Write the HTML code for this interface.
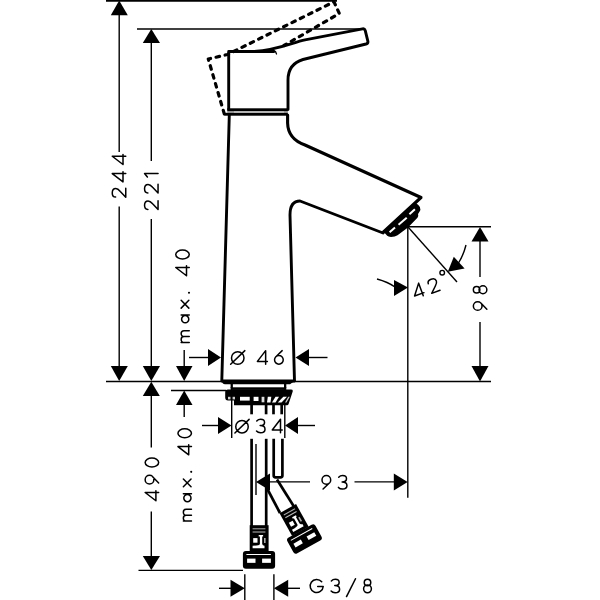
<!DOCTYPE html>
<html><head><meta charset="utf-8">
<style>
html,body{margin:0;padding:0;background:#fff;width:600px;height:600px;overflow:hidden}
svg{display:block}
text{font-family:"Liberation Sans",sans-serif;fill:#000;stroke:none}
</style></head>
<body>
<svg width="600" height="600" viewBox="0 0 600 600">
<rect width="600" height="600" fill="#fff"/>

<g stroke="#000" stroke-width="1.4" fill="none">
  <line x1="106" y1="0.85" x2="337" y2="0.85" stroke-width="1.75"/>
  <line x1="137" y1="29" x2="362" y2="29"/>
  <line x1="106" y1="381.5" x2="491" y2="381.5"/>
  <line x1="171" y1="390.5" x2="226" y2="390.5"/>
  <line x1="138.5" y1="570.4" x2="243" y2="570.4"/>
  <line x1="119.2" y1="14" x2="119.2" y2="152"/>
  <line x1="119.2" y1="206.5" x2="119.2" y2="367"/>
  <line x1="151.3" y1="42" x2="151.3" y2="161"/>
  <line x1="151.3" y1="219" x2="151.3" y2="367"/>
  <line x1="151.3" y1="396" x2="151.3" y2="447.6"/>
  <line x1="151.3" y1="511.5" x2="151.3" y2="557"/>
  <line x1="184.2" y1="350" x2="184.2" y2="367"/>
  <line x1="184.2" y1="404" x2="184.2" y2="417"/>
  <line x1="189" y1="357.5" x2="209" y2="357.5"/>
  <line x1="308" y1="357.5" x2="327.5" y2="357.5"/>
  <line x1="202" y1="425.5" x2="219" y2="425.5"/>
  <line x1="297" y1="425.5" x2="315" y2="425.5"/>
  <line x1="231.7" y1="384" x2="231.7" y2="438"/>
  <line x1="284.8" y1="384" x2="284.8" y2="438"/>
  <line x1="407.8" y1="226.7" x2="491" y2="226.7"/>
  <line x1="407.8" y1="226.7" x2="407.8" y2="497.7"/>
  <line x1="407.8" y1="226.7" x2="457" y2="282"/>
  <line x1="480" y1="241" x2="480" y2="277"/>
  <line x1="480" y1="322" x2="480" y2="367"/>
  <path d="M377,279 Q388,282 395,287"/>
  <path d="M466,245 Q463.5,255 458.5,263"/>
  <line x1="270" y1="481.9" x2="310" y2="481.9"/>
  <line x1="354.5" y1="481.9" x2="394" y2="481.9"/>
  <line x1="256" y1="444" x2="256" y2="495"/>
  <line x1="244.8" y1="574.2" x2="244.8" y2="600"/>
  <line x1="273.9" y1="574.2" x2="273.9" y2="600"/>
  <line x1="219" y1="588.3" x2="232" y2="588.3"/>
  <line x1="287" y1="588.3" x2="300" y2="588.3"/>
</g>


<g fill="#000">
  <polygon points="119.2,0.5 110.8,15.2 127.8,15.2"/>
  <polygon points="119.2,381 110.8,366 127.8,366"/>
  <polygon points="151.3,29 142.8,43 160,43"/>
  <polygon points="151.3,381 142.8,366 160,366"/>
  <polygon points="151.3,381.8 142.8,396 159.8,396"/>
  <polygon points="151.3,570 142.8,556 160,556"/>
  <polygon points="184.2,381 176,366 192.5,366"/>
  <polygon points="184.2,390.5 176,405 192.5,405"/>
  <polygon points="221,357.5 208,349 208,366"/>
  <polygon points="295.5,357.5 309,349 309,366"/>
  <polygon points="231.5,425.5 218,417 218,434"/>
  <polygon points="285,425.5 298,417 298,434"/>
  <polygon points="480,227 471.5,241.5 488.5,241.5"/>
  <polygon points="480,381.5 471.5,366 488.5,366"/>
  <polygon points="408,287.5 394,280 394,296"/>
  <polygon points="447.8,271.8 453.8,256.8 464.6,268.4"/>
  <polygon points="256,481.9 270,473.4 270,490.4"/>
  <polygon points="407.6,481.9 393.8,473.4 393.8,490.4"/>
  <polygon points="244.8,588.3 230.5,579.8 230.5,596.8"/>
  <polygon points="273.9,588.3 288.2,579.8 288.2,596.8"/>
</g>


<g stroke="#000" stroke-width="2.9" fill="none" stroke-linejoin="round" stroke-linecap="round">
  <path d="M224.7,115.3 L208.3,59 L227.5,54.5 L334,1.8 L339.3,13.5 L284,45.5" stroke-width="3.2" stroke-dasharray="3.6 5.7" stroke-dashoffset="-1.5" stroke-linecap="round"/>
  <path d="M228.7,109.5 L228.7,51.5 L274,51.5"/>
  <path d="M250,51.5 C275,51.5 292,42.5 305,39.9 L362.5,28.8 Q364.6,28.4 365.2,30.4 L367.9,41.3 Q368.2,43.4 366,44 L303,59.5 Q288,64 288,80 L288,109.5"/>
  <line x1="275.5" y1="51.5" x2="276.5" y2="54" stroke-width="1.3"/>
  <rect x="227.3" y="108.3" width="60.5" height="3" fill="#000" stroke="none"/><rect x="224.5" y="112.8" width="63.3" height="2.9" fill="#000" stroke="none"/>
  <rect x="227.3" y="111.2" width="60.5" height="1.7" fill="#888" stroke="none"/><rect x="234" y="111.4" width="50" height="1.2" fill="#ccc" stroke="none"/>
  <path d="M229.3,115 L221.8,381 L294.5,381 L290,215 Q290,201 300,201 L383,233"/>
  <path d="M287.6,115 L287.6,123 Q288,139 305,145 L421,197.5 L383.5,232" stroke-width="3.1"/>
</g>
<g transform="translate(383.8,232.1) rotate(-42.6)">
  <path d="M0,-1 L43,-1 Q44,3 43.5,6 Q42.5,8.8 40,9.2 L37.5,9.8 Q36.5,12 34.5,12.2 L21,12.9 L8,11.6 Q5,11.2 2,8.5 Q0,6.5 0,5 Z" fill="#000"/>
  <g stroke="#fff" stroke-width="2">
    <line x1="4.1" y1="4.1" x2="11.3" y2="4.3"/>
    <line x1="15.8" y1="4.6" x2="26.6" y2="4.9"/>
    <line x1="30.9" y1="4.25" x2="38.3" y2="4.3"/>
  </g>
</g>
<!-- base / plate -->
<g fill="#000">
  <path d="M224,380 L296,380 L290,384.3 L225,384.3 Q222,384 222,381Z"/>
  <rect x="230.6" y="384" width="2.2" height="4"/>
  <rect x="284" y="384" width="2.3" height="4"/>
  <rect x="230.6" y="387.3" width="55.7" height="2.6"/>
  <path d="M228,389.4 L291,389.4 Q293.2,389.4 292.7,391.5 L288.6,404 Q288.2,405.2 287,405.2 L234,405.2 L234,402.8 L234,400.5 L228,400.5 Q225.2,400.5 225.2,397.5 L225.2,392.2 Q225.2,389.4 228,389.4Z"/>
</g>
<g fill="#fff">
  <rect x="228" y="396.8" width="2.5" height="2.6" fill="#ccc"/>
  <rect x="232.6" y="396.8" width="2.4" height="2.6" fill="#ccc"/>
  <rect x="240" y="396.8" width="9.7" height="3.8"/>
  <rect x="253.6" y="396.8" width="4.9" height="4.2"/>
  <rect x="261.6" y="396.8" width="2.8" height="5.5" fill="#ddd"/>
  <polygon points="267.8,396.8 271.3,396.8 270.5,402.5 267,402.5"/>
  <polygon points="275.5,396.8 279,396.8 275.5,402.5 272,402.5"/>
  <polygon points="283.3,396.8 287,396.8 281.5,402.5 277.8,402.5"/>
  <polygon points="288.3,396.8 289.8,396.8 286.5,402.5 285,402.5" fill="#ccc"/>
</g>
<g stroke="#000" stroke-width="2.7" fill="none">
  <line x1="251.6" y1="404" x2="251.6" y2="414.3"/>
  <line x1="266.1" y1="404" x2="266.1" y2="414.3"/>
  <line x1="273.5" y1="404" x2="273.5" y2="414.3"/>
  <line x1="281.7" y1="404" x2="281.7" y2="414.3"/>
  <line x1="251.6" y1="438.8" x2="251.6" y2="526"/>
  <line x1="266.2" y1="438.8" x2="266.2" y2="526"/>
  <path d="M273.7,438.8 L273.7,475.5 Q273.7,477.3 275.5,477.3 L280.6,477.3 Q282.4,477.3 282.4,475.5 L282.4,438.8"/>
  <line x1="266.3" y1="487" x2="280" y2="513"/>
  <line x1="277" y1="479.5" x2="293.6" y2="506"/>
</g>


<g>
  <rect x="249.7" y="525.2" width="18.9" height="26" fill="#000"/>
  <line x1="252.6" y1="528.8" x2="265.4" y2="528.8" stroke="#aaa" stroke-width="1"/>
  <line x1="252.6" y1="532" x2="265.4" y2="532" stroke="#bbb" stroke-width="1"/>
  <rect x="253.2" y="538.1" width="4.3" height="4.6" fill="#fff"/>
  <path d="M258.7,534.9 L263.1,534.9 L263.1,536.5 L262.2,536.5 L262.2,544 Q262.5,545.7 264.5,545.7 L264.5,548.3 L252.6,548.3 L252.6,545.7 Q259.6,545.7 259.9,544 L259.9,536.5 L258.7,536.5Z" fill="#fff"/>
  <rect x="264" y="538" width="1.6" height="5" fill="#aaa"/>
  <rect x="242.9" y="550.9" width="32.2" height="17.9" rx="3" fill="#000"/>
  <line x1="246.4" y1="554.5" x2="270.9" y2="554.5" stroke="#fff" stroke-width="1"/>
  <rect x="247.1" y="558.6" width="8.4" height="4.25" fill="#fff"/>
  <rect x="262.1" y="558.6" width="8.8" height="4.25" fill="#fff"/>
</g>


<g transform="translate(304.45,539) rotate(-29) translate(-259,-559.85)">
  <rect x="249.7" y="525.2" width="18.9" height="26" fill="#000"/>
  <line x1="252.6" y1="528.8" x2="265.4" y2="528.8" stroke="#aaa" stroke-width="1"/>
  <line x1="252.6" y1="532" x2="265.4" y2="532" stroke="#bbb" stroke-width="1"/>
  <rect x="253.2" y="538.1" width="4.3" height="4.6" fill="#fff"/>
  <path d="M258.7,534.9 L263.1,534.9 L263.1,536.5 L262.2,536.5 L262.2,544 Q262.5,545.7 264.5,545.7 L264.5,548.3 L252.6,548.3 L252.6,545.7 Q259.6,545.7 259.9,544 L259.9,536.5 L258.7,536.5Z" fill="#fff"/>
  <rect x="264" y="538" width="1.6" height="5" fill="#aaa"/>
  <rect x="242.9" y="550.9" width="32.2" height="17.9" rx="3" fill="#000"/>
  <line x1="246.4" y1="554.5" x2="270.9" y2="554.5" stroke="#fff" stroke-width="1"/>
  <rect x="247.1" y="558.6" width="8.4" height="4.25" fill="#fff"/>
  <rect x="262.1" y="558.6" width="8.8" height="4.25" fill="#fff"/>
</g>

<g fill="none" stroke="#000" stroke-width="1.5" stroke-linecap="round" stroke-linejoin="round">
<path transform="translate(229.90,349.90)" d="M7.85,1.85 A6.25,6.25 0 1 1 7.85,14.35 A6.25,6.25 0 1 1 7.85,1.85Z M0.75,14.35 L14.95,0.75"/>
<path transform="translate(256.65,349.90)" d="M9.0,14.25 L9.0,0.75 L0.75,11.5 L10.75,11.5"/>
<path transform="translate(273.75,349.90)" d="M8.43,0.75 L2.15,6.77 M5.15,5.55 A4.35,4.35 0 1 1 5.15,14.25 A4.35,4.35 0 1 1 5.15,5.55Z"/>
<path transform="translate(234.15,418.60)" d="M7.85,1.85 A6.25,6.25 0 1 1 7.85,14.35 A6.25,6.25 0 1 1 7.85,1.85Z M0.75,14.35 L14.95,0.75"/>
<path transform="translate(255.75,418.50)" d="M1.0,2.4 C2,1.3 3.3,0.75 4.9,0.75 C7.3,0.75 8.8,2.1 8.8,3.9 C8.8,5.8 7.1,7.1 4.4,7.1 C7.5,7.1 9.25,8.6 9.25,10.7 C9.25,12.9 7.3,14.25 4.8,14.25 C3.1,14.25 1.7,13.7 0.75,12.6"/>
<path transform="translate(271.50,418.50)" d="M9.0,14.25 L9.0,0.75 L0.75,11.5 L10.75,11.5"/>
<path transform="translate(321.20,474.80)" d="M1.87,14.25 L8.15,8.23 M5.15,0.75 A4.35,4.35 0 1 1 5.15,9.45 A4.35,4.35 0 1 1 5.15,0.75Z"/>
<path transform="translate(337.70,474.80)" d="M1.0,2.4 C2,1.3 3.3,0.75 4.9,0.75 C7.3,0.75 8.8,2.1 8.8,3.9 C8.8,5.8 7.1,7.1 4.4,7.1 C7.5,7.1 9.25,8.6 9.25,10.7 C9.25,12.9 7.3,14.25 4.8,14.25 C3.1,14.25 1.7,13.7 0.75,12.6"/>
<path transform="translate(309.10,578.70)" d="M12.62,3.09 A6.55,6.55 0 1 0 14.13,7.76 L8.6,7.76"/>
<path transform="translate(330.35,578.50)" d="M1.0,2.4 C2,1.3 3.3,0.75 4.9,0.75 C7.3,0.75 8.8,2.1 8.8,3.9 C8.8,5.8 7.1,7.1 4.4,7.1 C7.5,7.1 9.25,8.6 9.25,10.7 C9.25,12.9 7.3,14.25 4.8,14.25 C3.1,14.25 1.7,13.7 0.75,12.6"/>
<path transform="translate(345.75,578.00)" d="M0.75,18.55 L9.75,0.75"/>
<path transform="translate(362.85,578.50)" d="M4.65,0.75 A3.25,3.25 0 1 1 4.65,7.25 A3.25,3.25 0 1 1 4.65,0.75Z M4.65,6.45 A3.90,3.90 0 1 1 4.65,14.25 A3.90,3.90 0 1 1 4.65,6.45Z"/>
<path transform="translate(111.50,198.05) rotate(-90)" d="M0.95,4.1 C0.95,2 2.8,0.75 5.1,0.75 C7.7,0.75 9.5,2.2 9.5,4.3 C9.5,6.1 8.4,7.3 6.6,8.8 L0.9,14.25 L9.75,14.25"/>
<path transform="translate(111.50,182.60) rotate(-90)" d="M9.0,14.25 L9.0,0.75 L0.75,11.5 L10.75,11.5"/>
<path transform="translate(111.50,165.25) rotate(-90)" d="M9.0,14.25 L9.0,0.75 L0.75,11.5 L10.75,11.5"/>
<path transform="translate(143.80,210.45) rotate(-90)" d="M0.95,4.1 C0.95,2 2.8,0.75 5.1,0.75 C7.7,0.75 9.5,2.2 9.5,4.3 C9.5,6.1 8.4,7.3 6.6,8.8 L0.9,14.25 L9.75,14.25"/>
<path transform="translate(143.80,193.95) rotate(-90)" d="M0.95,4.1 C0.95,2 2.8,0.75 5.1,0.75 C7.7,0.75 9.5,2.2 9.5,4.3 C9.5,6.1 8.4,7.3 6.6,8.8 L0.9,14.25 L9.75,14.25"/>
<path transform="translate(143.80,177.80) rotate(-90)" d="M0.75,3.6 L4.25,0.75 L4.25,14.25"/>
<path transform="translate(144.40,501.50) rotate(-90)" d="M9.0,14.25 L9.0,0.75 L0.75,11.5 L10.75,11.5"/>
<path transform="translate(144.40,484.85) rotate(-90)" d="M1.87,14.25 L8.15,8.23 M5.15,0.75 A4.35,4.35 0 1 1 5.15,9.45 A4.35,4.35 0 1 1 5.15,0.75Z"/>
<path transform="translate(144.40,467.75) rotate(-90)" d="M5.25,0.75 A4.50,6.75 0 1 1 5.25,14.25 A4.50,6.75 0 1 1 5.25,0.75Z"/>
<path transform="translate(472.60,311.15) rotate(-90)" d="M1.87,14.25 L8.15,8.23 M5.15,0.75 A4.35,4.35 0 1 1 5.15,9.45 A4.35,4.35 0 1 1 5.15,0.75Z"/>
<path transform="translate(472.60,294.40) rotate(-90)" d="M4.65,0.75 A3.25,3.25 0 1 1 4.65,7.25 A3.25,3.25 0 1 1 4.65,0.75Z M4.65,6.45 A3.90,3.90 0 1 1 4.65,14.25 A3.90,3.90 0 1 1 4.65,6.45Z"/>
<path transform="translate(175.00,276.50) rotate(-90)" d="M9.0,14.25 L9.0,0.75 L0.75,11.5 L10.75,11.5"/>
<path transform="translate(175.00,259.70) rotate(-90)" d="M5.25,0.75 A4.50,6.75 0 1 1 5.25,14.25 A4.50,6.75 0 1 1 5.25,0.75Z"/>
<path transform="translate(177.20,455.55) rotate(-90)" d="M9.0,14.25 L9.0,0.75 L0.75,11.5 L10.75,11.5"/>
<path transform="translate(177.20,438.55) rotate(-90)" d="M5.25,0.75 A4.50,6.75 0 1 1 5.25,14.25 A4.50,6.75 0 1 1 5.25,0.75Z"/>
<path transform="translate(180.40,343.20) rotate(-90)" d="M0.75,8.85 L0.75,0.75 M0.75,3.6 C0.75,1.8 1.9,0.75 3.7,0.75 C5.5,0.75 6.65,1.8 6.65,3.6 L6.65,8.85 M6.65,3.6 C6.65,1.8 7.8,0.75 9.6,0.75 C11.4,0.75 12.55,1.8 12.55,3.6 L12.55,8.85"/>
<path transform="translate(180.40,323.55) rotate(-90)" d="M4.35,1.20 A3.60,3.60 0 1 1 4.35,8.40 A3.60,3.60 0 1 1 4.35,1.20Z M8.55,0.75 L8.55,8.85"/>
<path transform="translate(180.40,308.85) rotate(-90)" d="M0.75,0.75 L8.55,8.45 M8.55,0.75 L0.75,8.45"/>
<path transform="translate(182.60,521.85) rotate(-90)" d="M0.75,8.85 L0.75,0.75 M0.75,3.6 C0.75,1.8 1.9,0.75 3.7,0.75 C5.5,0.75 6.65,1.8 6.65,3.6 L6.65,8.85 M6.65,3.6 C6.65,1.8 7.8,0.75 9.6,0.75 C11.4,0.75 12.55,1.8 12.55,3.6 L12.55,8.85"/>
<path transform="translate(182.60,502.40) rotate(-90)" d="M4.35,1.20 A3.60,3.60 0 1 1 4.35,8.40 A3.60,3.60 0 1 1 4.35,1.20Z M8.55,0.75 L8.55,8.85"/>
<path transform="translate(182.60,487.50) rotate(-90)" d="M0.75,0.75 L8.55,8.45 M8.55,0.75 L0.75,8.45"/>
<circle cx="189.0" cy="292.75" r="1.05" fill="#000" stroke="none"/><circle cx="191.2" cy="471.85" r="1.05" fill="#000" stroke="none"/>
<path transform="translate(417.90,290.60) rotate(-20) translate(-5.75,-7.50)" d="M9.0,14.25 L9.0,0.75 L0.75,11.5 L10.75,11.5"/>
<path transform="translate(433.50,285.50) rotate(-20) translate(-5.25,-7.50)" d="M0.95,4.1 C0.95,2 2.8,0.75 5.1,0.75 C7.7,0.75 9.5,2.2 9.5,4.3 C9.5,6.1 8.4,7.3 6.6,8.8 L0.9,14.25 L9.75,14.25"/>
<circle cx="442.2" cy="272.7" r="2.3" stroke-width="1.4"/>
</g>
</svg>
</body></html>
